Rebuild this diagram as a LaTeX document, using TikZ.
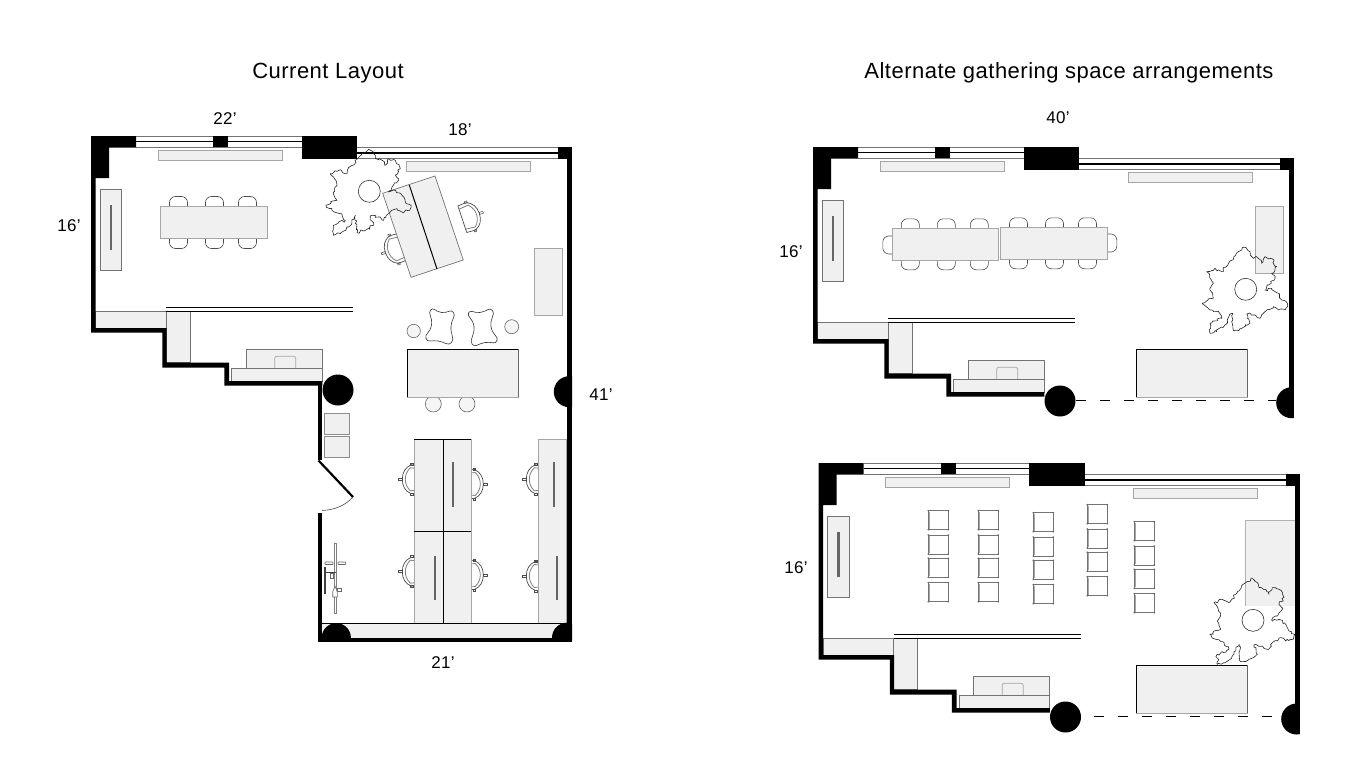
\documentclass[tikz,border=0pt]{standalone}
\usepackage{fontspec}
\setmainfont{Liberation Sans}
\newfontfamily\titlefont[LetterSpace=2.2]{Liberation Sans}
\newfontfamily\dimfont[LetterSpace=1.5]{Liberation Sans}
\usetikzlibrary{
		calc,
		decorations.pathmorphing
	}
\tikzset{
		>=stealth,
		furn/.style={fill=black!6, draw=black!35, line width=.7pt},
		furndark/.style={fill=black!6, draw=black!55, line width=.7pt},
		pane/.style={draw=black!55, line width=.7pt},
		tvbar/.style={draw=black!60, line width=2.2pt},
		stool/.style={fill=black!4, draw=black!60, line width=.6pt},
		title/.style={font=\titlefont\fontsize{22}{24}\selectfont},
		dim/.style={font=\dimfont\fontsize{17}{20}\selectfont},
		plantline/.style={draw=black!85, line width=.6pt, line join=round,
			decorate, decoration={random steps, segment length=2.2pt, amplitude=1.5pt}},
		chair/.pic={
			\draw[draw=black!70, line width=.6pt, rounded corners=6pt] (-9,2) -- (-9,-9.5) -- (9,-9.5) -- (9,2);
		},
		officechair/.pic={
			\draw[fill=white, draw=black!70, line width=.7pt] (6,-14) -- (-3,-14.5) .. controls (-9,-12) and (-12,-7) .. (-12,0)
				.. controls (-12,7) and (-9,12) .. (-3,14.5) -- (6,14) -- cycle;
			\draw[draw=black!50, line width=.8pt] (6,-10.5) -- (-4,-11.5) .. controls (-7.5,-8) and (-9,-4) .. (-9,0)
				.. controls (-9,4) and (-7.5,8) .. (-4,11.5) -- (6,10.5);
			\draw[draw=black!70, line width=.5pt] (-16,-1) rectangle (-12,1);
			\draw[draw=black!70, line width=.5pt] (-4,-16) rectangle (-1.5,-14);
			\draw[draw=black!70, line width=.5pt] (-4,14) rectangle (-1.5,16);
		},
		squarechair/.pic={
			\draw[draw=black!55, line width=.7pt] (0,0) rectangle (20,19);
			\draw[draw=black!35, line width=.8pt] (1.5,1) -- (1.5,18);
			\fill[black!60] (0,0) circle (.9) (20,0) circle (.9) (0,19) circle (.9) (20,19) circle (.9);
		}
	}

% the walls, windows and built-ins that all three plans share
\newcommand{\baseroom}{
	% curtains, tv, shelves
	\filldraw[furn] (158,150) rectangle (282,160);
	\filldraw[furn] (406,161) rectangle (530,171);
	\filldraw[furndark] (100.3,189) rectangle (121.7,270);
	\draw[tvbar] (111,205) -- (111,250);
	\filldraw[furndark] (95.7,311.7) rectangle (166.3,328);
	\filldraw[furndark] (166.3,311.7) rectangle (190.3,362.7);
	% reception desk
	\filldraw[furndark] (246.3,349) rectangle (322.3,368.3);
	\draw[black!35, line width=.7pt, rounded corners=2pt] (274.7,368.3) -- (274.7,356.3) -- (295.7,356.3) -- (295.7,368.3);
	\filldraw[furndark] (231.7,368.3) rectangle (322.3,381);
	% windows
	\draw[pane] (136,136.4) -- (302,136.4);
	\draw[pane] (136,147.3) -- (302,147.3);
	\draw[line width=1.6pt] (136,141.6) -- (302,141.6);
	\draw[pane] (357,147.4) -- (558,147.4);
	\draw[pane] (357,158.6) -- (558,158.6);
	\draw[line width=1.6pt] (357,152.8) -- (558,152.8);
	\fill (213,136) rectangle (228,147.3);
	\fill (301.7,136) rectangle (357.3,159);
	\fill (558.3,147.3) rectangle (572,158.7);
	% partition
	\draw[line width=.8pt] (166.3,307.3) -- (353,307.3);
	\draw[line width=.8pt] (166.3,311.7) -- (353,311.7);
	% outer wall
	\fill (91,136) -- (136,136) -- (136,147.7) -- (109,147.7) -- (109,178) -- (95.7,178) -- (95.7,328)
		-- (166.7,328) -- (166.7,362.7) -- (229,362.7) -- (229,381) -- (322.3,381) -- (322.3,385.7)
		-- (224.3,385.7) -- (224.3,367.7) -- (162.3,367.7) -- (162.3,332.7) -- (91,332.7) -- cycle;
	% column
	\fill (338,390) circle (15.5);
}

\newcommand{\plant}[2]{
	\begin{scope}[shift={(#1,#2)}]
		\draw[black!80, line width=.6pt] (0,0) circle (11);
		\draw[plantline] (-11.7,-32.7) -- (-7.3,-37.7) -- (-.7,-42) -- (4.3,-37.7) -- (6,-32.7) -- (12.7,-31)
			-- (16,-26) -- (19.3,-32.7) -- (26,-31) -- (31,-22.7) -- (26,-16) -- (29.3,-11) -- (22.7,-4.3)
			-- (19.3,.7) -- (26,-1) -- (32.7,4) -- (36,10.7) -- (41.7,14) -- (40.3,19) -- (32.7,20.7) -- (27.7,17.3)
			-- (19.3,22.3) -- (14.3,29) -- (9.3,25.7) -- (1,24.7) -- (4.3,34) -- (-4,39) -- (-12.3,41.3) -- (-14,32.3)
			-- (-14,24) -- (-20.7,35.7) -- (-29,42.3) -- (-35.7,44) -- (-35.7,34) -- (-24,29) -- (-29,22.3) -- (-37.3,19)
			-- (-43.3,14) -- (-32.3,9) -- (-35.7,.7) -- (-32.3,-6) -- (-39,-17.7) -- (-30.7,-21) -- (-24,-17.7)
			-- (-17.3,-26) -- cycle;
	\end{scope}
}

\newcommand{\lowtable}[2]{
	\filldraw[fill=black!6, draw=black!35, line width=.7pt] (#1,#2) rectangle ++(110.7,48);
	\draw[line width=.9pt] (#1,#2+48) -- (#1,#2) -- ++(110.7,0);
	\draw[black!60, line width=.8pt] (#1+110.7,#2) -- ++(0,48);
}

\pgfmathsetseed{11}

\begin{document}
\begin{tikzpicture}[x=1pt, y=-1pt]
	\useasboundingbox (0,0) rectangle (1366,768);

	% the texts
	\node[title] (titlecurrent) at (328,73) {Current Layout};
	\node[title] (titlealternate) at (1069,73) {Alternate gathering space arrangements};
	\node[dim] (dimnorthwest) at (225,119) {22’};
	\node[dim] (dimnortheast) at (460,130) {18’};
	\node[dim] (dimwest) at (69,226) {16’};
	\node[dim] (dimeast) at (601,395) {41’};
	\node[dim] (dimsouth) at (443,663) {21’};
	\node[dim] (dimalta) at (1058,118) {40’};
	\node[dim] (dimaltawest) at (791,252) {16’};
	\node[dim] (dimaltbwest) at (796,568) {16’};

	%%%%%%%% current layout
	\baseroom

	% meeting table and chairs
	\pic at (178.5,206) {chair};
	\pic at (214.5,206) {chair};
	\pic at (247.5,206) {chair};
	\pic[rotate=180] at (178.5,239) {chair};
	\pic[rotate=180] at (214.5,239) {chair};
	\pic[rotate=180] at (247.5,239) {chair};
	\filldraw[furn] (160.3,206) rectangle (267.7,238.7);

	% rotated desk
	\pic[rotate=198.6] at (468,217.3) {officechair};
	\pic[rotate=18.6] at (396.7,248.7) {officechair};
	\filldraw[furndark] (435,176) -- (463.3,260) -- (411,277.3) -- (382.7,193.3) -- cycle;
	\draw[line width=1pt] (409.3,185) -- (437,269);

	% lounge
	\filldraw[furn] (534.3,248.3) rectangle (562.7,315.3);
	\filldraw[stool] (413.7,331) circle (6.7);
	\filldraw[stool] (511.7,326.7) circle (7);
	\draw[black!80, line width=.6pt] plot[smooth cycle, tension=1] coordinates {(430.5,310) (441.7,312.5) (453.5,312.5) (451,326.7) (451.5,342.5) (438.3,341) (426,338.5) (431.5,325)};
	\draw[black!80, line width=.6pt] plot[smooth cycle, tension=1] coordinates {(468.5,313) (480,312.5) (492.5,310.5) (491,326.7) (497,340.5) (485,342.5) (472,344) (474,326.7)};
	\filldraw[stool] (433.3,404) circle (8);
	\filldraw[stool] (467,404) circle (8);
	\lowtable{407.3}{349.3}

	% boxes by the door
	\filldraw[furn, draw=black!45] (324,413.7) rectangle (349.7,434.3);
	\filldraw[furn, draw=black!45] (324,436) rectangle (349.7,457);

	% desks and office chairs
	\pic at (414.3,479.3) {officechair};
	\pic at (414.3,571.7) {officechair};
	\pic[rotate=180] at (471.3,484) {officechair};
	\pic[rotate=180] at (471.3,575) {officechair};
	\pic at (538.3,479.3) {officechair};
	\pic at (538.3,576) {officechair};
	\filldraw[furn] (414.3,439.3) rectangle (471.3,623.3);
	\filldraw[furn] (538.3,439.3) rectangle (566.7,623.3);
	\draw[line width=.9pt] (414.3,439.3) -- (471.3,439.3);
	\draw[line width=.9pt] (414.3,531.3) -- (471.3,531.3);
	\draw[line width=.9pt] (443.7,439.3) -- (443.7,623.3);
	\draw[tvbar] (453.3,462) -- (453.3,507);
	\draw[tvbar] (554.3,462) -- (554.3,507);
	\draw[tvbar] (435,556) -- (435,600);
	\draw[tvbar] (556.7,556) -- (556.7,600);

	% bench and corner columns
	\fill[black!6] (322,623.3) rectangle (567,638);
	\draw[line width=.9pt] (322,623.3) -- (567.3,623.3);
	\begin{scope}
		\clip (300,600) rectangle (572,640);
		\fill (336.3,637.7) circle (14.6);
		\fill (567,637.7) circle (15);
	\end{scope}

	% bike
	\draw[black!50, line width=.6pt] (334.3,543.3) rectangle (336.3,613.3);
	\draw[black!60, line width=.6pt, rounded corners=.5pt] (325,562) rectangle (333,564.5);
	\draw[black!60, line width=.6pt, rounded corners=.5pt] (338,562) rectangle (345.7,564.5);
	\draw[black!75, line width=1.8pt] (325.3,566.7) -- (325.3,594);
	\draw[black!75, line width=1.3pt] (325.3,572.7) -- (336,572.7);
	\draw[black!60, line width=.6pt] (330,573.5) rectangle (333,578);
	\draw[black!60, line width=.6pt] (337.3,588) rectangle (341.7,591);
	\filldraw[fill=white, draw=black!60, line width=.6pt] (335,586) -- (337.3,592) -- (337.3,597) -- (332.7,597) -- (332.7,592) -- cycle;

	% right wall, south walls, door
	\begin{scope}
		\clip (540,360) rectangle (572,420);
		\fill (569.3,391.7) circle (15.5);
	\end{scope}
	\fill (567.3,158) rectangle (572,642);
	\fill (317.7,638) rectangle (572,642);
	\fill (317.7,385) rectangle (322.3,460);
	\fill (317.7,513) rectangle (322.3,642);
	\draw[line width=2.2pt] (318.5,460.5) -- (353,497);
	\draw[black!70, line width=.6pt] (353,497) .. controls (346,505) and (335,510) .. (322,510.5);

	\plant{369.3}{191.3}

	%%%%%%%% first alternate, long table
	\begin{scope}[shift={(722,11)}]
		\baseroom
	\end{scope}
	\fill (1289,169) rectangle (1293.7,418);
	\begin{scope}
		\clip (1260,380) rectangle (1293.7,420);
		\fill (1291.7,402.7) circle (15.5);
	\end{scope}
	\draw[line width=.8pt, dash pattern=on 10pt off 14pt] (1076,400.3) -- (1276,400.3);

	% chairs
	\pic at (910.3,228.3) {chair};
	\pic at (946.3,228.3) {chair};
	\pic at (979.3,228.3) {chair};
	\pic at (1018.5,227.3) {chair};
	\pic at (1054.5,227.3) {chair};
	\pic at (1087.5,227.3) {chair};
	\pic[rotate=180] at (910.3,260.3) {chair};
	\pic[rotate=180] at (946.3,260.3) {chair};
	\pic[rotate=180] at (979.3,260.3) {chair};
	\pic[rotate=180] at (1018.5,259.3) {chair};
	\pic[rotate=180] at (1054.5,259.3) {chair};
	\pic[rotate=180] at (1087.5,259.3) {chair};
	\pic[rotate=90] at (892.3,245) {chair};
	\pic[rotate=-90] at (1107.3,243) {chair};
	\filldraw[furn] (892.3,228.3) rectangle (998.7,260.3);
	\filldraw[furn] (1000.3,227.3) rectangle (1107.3,259.3);

	\filldraw[furn] (1255.3,206.3) rectangle (1283.7,273.3);
	\lowtable{1136.3}{349.3}
	\plant{1245.7}{289.3}

	%%%%%%%% second alternate, rows of chairs
	\begin{scope}[shift={(727.5,327)}]
		\baseroom
	\end{scope}
	\fill (1294.8,485) rectangle (1299.5,734.3);
	\begin{scope}
		\clip (1260,700) rectangle (1299.5,736);
		\fill (1296.7,719) circle (15.5);
	\end{scope}
	\draw[line width=.8pt, dash pattern=on 10pt off 14pt] (1094,716.3) -- (1273,716.3);

	% rows of chairs, x and shift in y
	\foreach \rowx/\rowy in {928.3/0, 978.3/0, 1033.3/2, 1087.3/-6, 1134.3/11}{
		\foreach \seaty in {510.7, 535, 558.3, 582.7}{
			\pic at (\rowx,\seaty+\rowy) {squarechair};
		}
	}

	% console, drawn open towards the wall
	\fill[black!6] (1245.3,520.3) rectangle (1294.8,605.7);
	\draw[black!30, line width=.7pt] (1245.3,605.7) -- (1245.3,520.3) -- (1294.8,520.3);
	\plant{1253}{620.3}
	\lowtable{1136.3}{665.3}

\end{tikzpicture}
\end{document}
